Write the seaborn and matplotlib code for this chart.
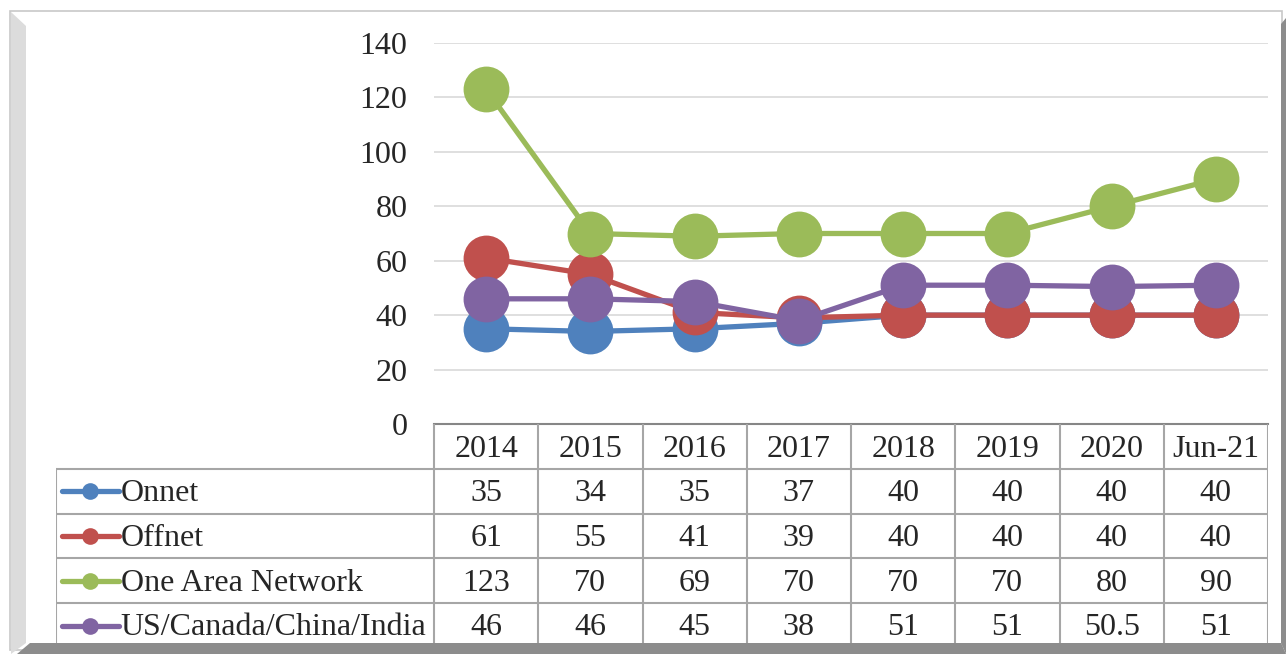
import numpy as np
import pandas as pd
import matplotlib
matplotlib.use('Agg')
import matplotlib.pyplot as plt
import seaborn as sns
from matplotlib.patches import Polygon, Rectangle

# data
periods = ['2014', '2015', '2016', '2017', '2018', '2019', '2020', 'Jun-21']
onnet = [35, 34, 35, 37, 40, 40, 40, 40]
offnet = [61, 55, 41, 39, 40, 40, 40, 40]
one_area = [123, 70, 69, 70, 70, 70, 80, 90]
us_can = [46, 46, 45, 38, 51, 51, 50.5, 51]
series_names = ['Onnet', 'Offnet', 'One Area Network', 'US/Canada/China/India']
table_text = [['35', '34', '35', '37', '40', '40', '40', '40'],
              ['61', '55', '41', '39', '40', '40', '40', '40'],
              ['123', '70', '69', '70', '70', '70', '80', '90'],
              ['46', '46', '45', '38', '51', '51', '50.5', '51']]
colors = ['#4F81BD', '#C0504D', '#9BBB59', '#8064A2']

rows = []
for name, vals in zip(series_names, [onnet, offnet, one_area, us_can]):
    for i, v in enumerate(vals):
        rows.append({'pos': i, 'value': v, 'series': name})
df = pd.DataFrame.from_records(rows)

sns.set_style('white')
plt.rcParams['font.family'] = ['Liberation Serif', 'DejaVu Serif']
FS = 23

W, H = 1286, 654
fig = plt.figure(figsize=(W / 100, H / 100), dpi=100)

def fx(x):
    return x / W

def fy(y):
    return 1 - y / H

# frame with bevels (pixel coords)
fig.add_artist(Rectangle((fx(10), fy(650)), fx(1272), 639 / H, transform=fig.transFigure,
                         facecolor='white', edgecolor='#C8C8C8', lw=1.2, zorder=0))
left_bevel = [(11, 12), (26, 26), (26, 643), (11, 654)]
bottom_bevel = [(17, 654), (30, 643), (1281, 643), (1286, 654)]
right_bevel = [(1281, 24), (1286, 18), (1286, 654), (1281, 643)]
for poly, col in [(left_bevel, '#DCDCDC'), (bottom_bevel, '#8C8C8C'), (right_bevel, '#8C8C8C')]:
    fig.add_artist(Polygon([(fx(a), fy(b)) for a, b in poly], closed=True, transform=fig.transFigure,
                           facecolor=col, edgecolor='none', zorder=1))

# main plot area: x 434..1268, y 43..424
x0, x1, ytop, ybot = 434, 1268, 43, 424
ax = fig.add_axes([fx(x0), fy(ybot), fx(x1 - x0), (ybot - ytop) / H])
ax.set_facecolor('none')
sns.lineplot(data=df, x='pos', y='value', hue='series', palette=colors, marker='o',
             markersize=33, linewidth=3.8, markeredgewidth=0, ax=ax, legend=False)
ax.set_xlim(-0.5, len(periods) - 0.5)
ax.set_ylim(0, 140)
ax.set_yticks(np.arange(0, 141, 20))
ax.set_yticklabels([str(v) for v in range(0, 141, 20)], fontsize=FS)
ax.tick_params(axis='y', length=0, pad=19)
ax.set_xticks([])
ax.set_xlabel('')
ax.set_ylabel('')
ax.grid(axis='y', color='#D9D9D9', lw=1.2)
ax.set_axisbelow(True)
for s in ['top', 'right', 'left']:
    ax.spines[s].set_visible(False)
ax.spines['bottom'].set_color('#868686')
ax.spines['bottom'].set_linewidth(1.5)

# data table below the plot
tx0, ty0, ty1 = 56, 424, 648
tab = fig.add_axes([fx(tx0), fy(ty1), fx(x1 - tx0), (ty1 - ty0) / H])
tab.set_axis_off()
col_w = (x1 - x0) / len(periods)
leg_w = (x0 - tx0) / col_w
tab.set_xlim(-0.5 - leg_w, len(periods) - 0.5)
tab.set_ylim(5, 0)
grid_c = '#A6A6A6'
for r in range(1, 6):
    tab.plot([-0.5 - leg_w, len(periods) - 0.5], [r, r], color=grid_c, lw=1.5)
for c in range(len(periods) + 1):
    tab.plot([c - 0.5, c - 0.5], [0, 5], color=grid_c, lw=1.5)
tab.plot([-0.5 - leg_w, -0.5 - leg_w], [1, 5], color=grid_c, lw=1.5)

for i, p in enumerate(periods):
    tab.text(i, 0.58, p, ha='center', va='center', fontsize=FS)
for r, (name, col) in enumerate(zip(series_names, colors)):
    yy = r + 1.5
    lx = -0.5 - leg_w
    tab.plot([lx + 0.06, lx + 0.6], [yy, yy], color=col, lw=3.8, solid_capstyle='round')
    tab.plot([lx + 0.33], [yy], marker='o', color=col, markersize=12, markeredgewidth=0)
    tab.text(lx + 0.62, yy + 0.05, name, ha='left', va='center', fontsize=FS)
    for i, t in enumerate(table_text[r]):
        tab.text(i, yy + 0.05, t, ha='center', va='center', fontsize=FS)

fig.savefig('out.png', dpi=100)
